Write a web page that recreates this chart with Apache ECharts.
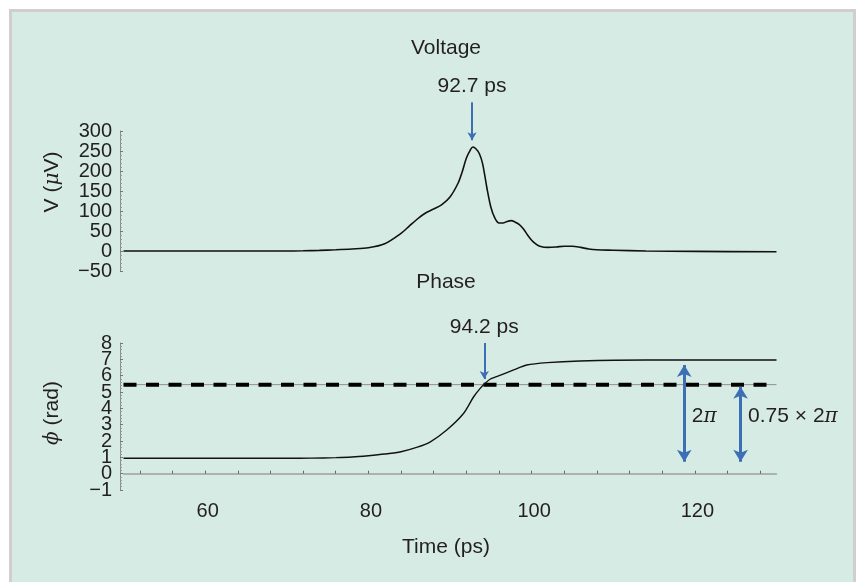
<!DOCTYPE html>
<html><head><meta charset="utf-8">
<script src="https://cdn.jsdelivr.net/npm/echarts@6/dist/echarts.min.js"></script>
<style>
html,body{margin:0;padding:0;background:#fff;}
#frame{position:absolute;left:9px;top:9px;width:841px;height:600px;border:3px solid #cfcfcf;border-bottom:none;background:#d7ebe5;}
#chart{position:absolute;left:0;top:0;width:859px;height:582px;}
</style></head><body>
<div id="frame"></div><div id="chart"></div>
<script>
// ---- data ----
const voltageTime = [50,60,70,72,74,76,78,80,82,84,85,86,87,88,89,90,91,91.5,92,92.5,92.8,93.2,93.6,94,94.5,95,95.5,96,96.5,97,97.5,98,98.5,99,99.5,100,100.5,101,102,103,104,105,106,107,108,110,114,120,130];
const voltageValues = [0,0,0,0.5,1.5,3,5,8,18,44,62,80,95,105,116,135,170,198,232,253,260,255,243,218,160,110,82,70,70,74,76,72,66,55,40,27,18,12,9,10,12,12,9,5,3,2,0,-1,-2];
const phaseTime = [50,60,70,73,76,78,80,82,84,86,87.6,89.6,91.6,92.9,93.7,94.3,94.9,95.7,97.8,99.4,101.9,105.9,114,120,130];
const phaseValues = [0.94,0.94,0.94,0.95,0.98,1.02,1.1,1.2,1.34,1.62,1.95,2.67,3.65,4.71,5.22,5.53,5.78,5.94,6.35,6.65,6.8,6.9,6.96,6.96,6.96];
const phaseThreshold = 5.45;           // 0.75 x 2pi level
const thresholdSpan = [50, 130];
const xTickValues = [52,56,60,64,68,72,76,80,84,88,92,96,100,104,108,112,116,120,124,128];
const xLabelValues = [60,80,100,120];
const voltageAxis = {min:-50, max:300, step:50};
const phaseAxis = {min:-1, max:8, step:1};
// annotation layer above the voltage plot continues the voltage scale
const voltageAnnoAxis = {min:252.5, max:402.5};
// annotations: [time, from, to]
const peakArrow = [92.7, 372, 277];
const crossArrow = [94.2, 8.0, 5.8];
const twoPiArrow = [118.7, 0.73, 6.65];
const partArrow = [125.6, 0.73, 5.32];
const arrowTextLevel = 3.49;

const FONT = '"Liberation Sans", Arial, Helvetica, sans-serif';
const SERIF = '"DejaVu Serif", "Liberation Serif", serif';
const TEXT = '#231f20';
const BLUE = '#3c6fb4';
const italic = {fontStyle:'italic', fontFamily:SERIF, fontSize:20, color:TEXT};

const zip = (a,b) => a.map((v,i)=>[v,b[i]]);
const minusFmt = v => String(v).replace('-', '\u2212');

const chart = echarts.init(document.getElementById('chart'), null, {renderer:'canvas'});

function yAxisCfg(idx, ax, name, padding, labelFmt, minLbl, maxLbl){
  return {
    gridIndex: idx, type:'value', position:'left', min: ax.min, max: ax.max, interval: ax.step, offset: 3.5,
    axisLine:{show:true, lineStyle:{color:'#8c8c8c', width:1}},
    axisTick:{show:true, inside:true, length:3, lineStyle:{color:'#777'}},
    minorTick:{show:true, splitNumber:5, length:2, lineStyle:{color:'#999'}},
    splitLine:{show:false}, minorSplitLine:{show:false},
    axisLabel:{formatter: labelFmt, fontSize:20, lineHeight:14, margin:8, color:TEXT, fontFamily:FONT, hideOverlap:false, showMinLabel:minLbl, showMaxLabel:maxLbl},
    name: name, nameLocation:'middle', nameGap: 57,
    nameTextStyle:{fontSize:21, color:TEXT, fontFamily:FONT, padding: padding, rich:{i: italic}}
  };
}

const topLabel = {show:true, position:'start', fontSize:21, color:TEXT, fontFamily:FONT, distance:5};
const evenFmt = v => (Math.abs(Math.round(v)) % 2 === 0 ? minusFmt(v) : '');
const oddFmt = v => (Math.abs(Math.round(v)) % 2 === 1 ? minusFmt(v) : '');

const option = {
  animation:false,
  textStyle:{fontFamily:FONT},
  grid:[
    {left:123.5, top:131, width:653, height:140, containLabel:false, outerBoundsMode:'none'},
    {left:123.5, top:343, width:653, height:147, containLabel:false, outerBoundsMode:'none'},
    {left:123.5, top:90, width:653, height:60, containLabel:false, outerBoundsMode:'none'}
  ],
  xAxis:[
    {gridIndex:0, type:'value', min:50, max:130, show:false},
    {gridIndex:1, type:'value', min:50, max:130,
     axisLine:{show:true, lineStyle:{color:'#a0a0a0', width:1.5}},
     axisTick:{show:true, inside:true, length:3, customValues:xTickValues, lineStyle:{color:'#666'}},
     axisLabel:{customValues:xLabelValues, fontSize:20, color:TEXT, margin:11, fontFamily:FONT, padding:[0,0,0,5]},
     splitLine:{show:false},
     name:'Time (ps)', nameLocation:'middle', nameGap:47,
     nameTextStyle:{fontSize:21, color:TEXT, fontFamily:FONT, padding:[0,8,0,0]}},
    {gridIndex:2, type:'value', min:50, max:130, show:false}
  ],
  yAxis:[
    yAxisCfg(0, voltageAxis, 'V ({i|\u03bc}V)', [0,0,0,38], minusFmt, true, true),
    yAxisCfg(1, phaseAxis, '{i|\u03d5} (rad)', [0,0,0,7], evenFmt, null, true),
    Object.assign(yAxisCfg(1, phaseAxis, '', [0,0,0,0], oddFmt, true, null),
      {axisLine:{show:false}, axisTick:{show:false}, minorTick:{show:false}}),
    {gridIndex:2, type:'value', min:voltageAnnoAxis.min, max:voltageAnnoAxis.max, show:false}
  ],
  graphic:[
    {type:'text', x:446, y:48, silent:true, style:{text:'Voltage', fontSize:21, fontFamily:FONT, fill:TEXT, align:'center', verticalAlign:'middle'}},
    {type:'text', x:446, y:282, silent:true, style:{text:'Phase', fontSize:21, fontFamily:FONT, fill:TEXT, align:'center', verticalAlign:'middle'}}
  ],
  series:[
    {type:'line', name:'Voltage', xAxisIndex:0, yAxisIndex:0, data: zip(voltageTime, voltageValues),
     showSymbol:false, smooth:0.3, lineStyle:{color:'#111', width:1.6}, silent:true},
    {type:'line', name:'annTop', xAxisIndex:2, yAxisIndex:3, data:[], clip:false, silent:true,
     markLine:{silent:true, animation:false, symbol:['none','arrow'], symbolSize:[7,8],
       lineStyle:{color:BLUE, width:2, type:'solid'}, emphasis:{disabled:true},
       label:{show:false},
       data:[[{coord:[peakArrow[0], peakArrow[1]], label:Object.assign({formatter:'92.7 ps'}, topLabel)},
              {coord:[peakArrow[0], peakArrow[2]]}]]}},
    {type:'line', name:'thrGuide', xAxisIndex:1, yAxisIndex:1, data: thresholdSpan.map(t=>[t, phaseThreshold]),
     showSymbol:false, lineStyle:{color:'#8f8f8f', width:1}, silent:true},
    {type:'line', name:'thr', xAxisIndex:1, yAxisIndex:1, data: [[thresholdSpan[0], phaseThreshold],[thresholdSpan[1]-0.8, phaseThreshold]],
     showSymbol:false, lineStyle:{color:'#000', width:4, type:[13,9.5]}, silent:true},
    {type:'line', name:'Phase', xAxisIndex:1, yAxisIndex:1, data: zip(phaseTime, phaseValues),
     showSymbol:false, smooth:0.3, lineStyle:{color:'#111', width:1.4}, silent:true},
    {type:'line', name:'annBottom', xAxisIndex:1, yAxisIndex:1, data:[], clip:false, silent:true,
     markLine:{silent:true, animation:false, symbol:['none','arrow'], symbolSize:[7,8],
       lineStyle:{color:BLUE, width:2, type:'solid'}, emphasis:{disabled:true},
       label:{show:false},
       data:[
         [{coord:[crossArrow[0], crossArrow[1]], label:Object.assign({formatter:'94.2 ps'}, topLabel)},
          {coord:[crossArrow[0], crossArrow[2]]}],
         [{coord:[twoPiArrow[0], twoPiArrow[1]], symbol:'arrow', symbolSize:[11,12], lineStyle:{width:3, color:BLUE}},
          {coord:[twoPiArrow[0], twoPiArrow[2]], symbol:'arrow', symbolSize:[11,12]}],
         [{coord:[partArrow[0], partArrow[1]], symbol:'arrow', symbolSize:[11,12], lineStyle:{width:3, color:BLUE}},
          {coord:[partArrow[0], partArrow[2]], symbol:'arrow', symbolSize:[11,12]}]
       ]},
     markPoint:{silent:true, animation:false, symbol:'rect', symbolSize:1, itemStyle:{color:'rgba(0,0,0,0)'},
       label:{show:true, position:'right', distance:7, fontSize:21, color:TEXT, fontFamily:FONT, rich:{i:italic}},
       data:[
         {coord:[twoPiArrow[0], arrowTextLevel], label:{formatter:'2{i|\u03c0}'}},
         {coord:[partArrow[0], arrowTextLevel], label:{formatter:'0.75 \u00d7 2{i|\u03c0}'}}
       ]}}
  ]
};
chart.setOption(option);
</script>
</body></html>
